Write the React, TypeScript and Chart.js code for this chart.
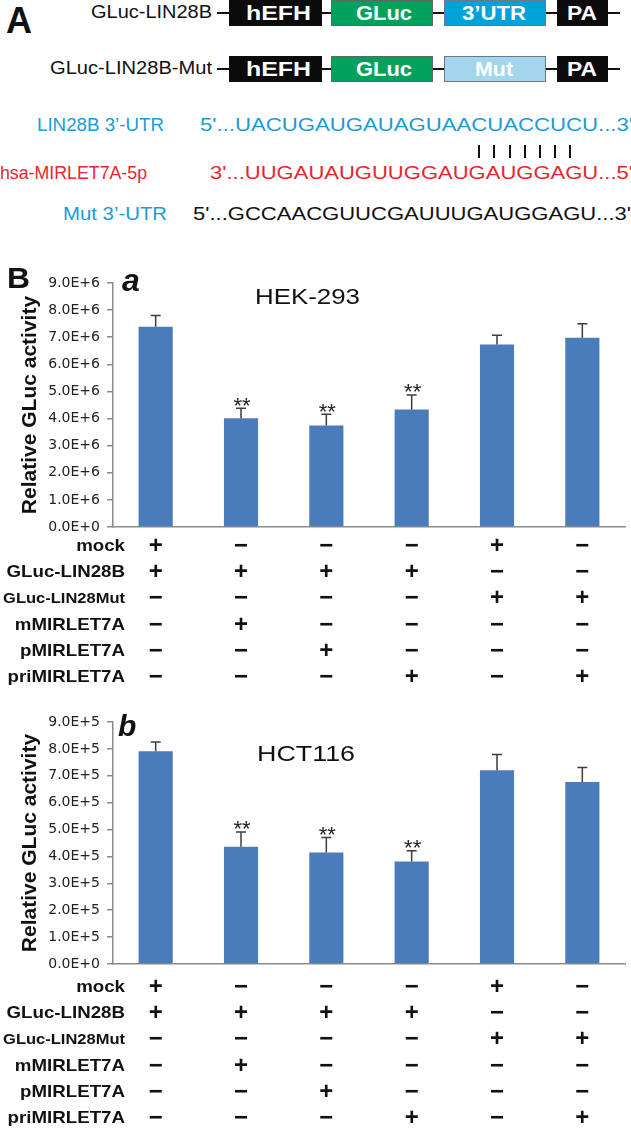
import React, { useEffect, useRef } from 'react';
import { Chart, registerables } from 'chart.js';

Chart.register(...registerables);

// ---------------- data ----------------
const rowNames = ['mock', 'GLuc-LIN28B', 'GLuc-LIN28Mut', 'mMIRLET7A', 'pMIRLET7A', 'priMIRLET7A'];
const mockRow = [1, 0, 0, 0, 1, 0];
const glucRow = [1, 1, 1, 1, 0, 0];
const mutRow = [0, 0, 0, 0, 1, 1];
const mMirRow = [0, 1, 0, 0, 0, 0];
const pMirRow = [0, 0, 1, 0, 0, 0];
const priMirRow = [0, 0, 0, 1, 0, 1];
const signRows = [mockRow, glucRow, mutRow, mMirRow, pMirRow, priMirRow];

const hekMeans = [7.39e6, 4.01e6, 3.74e6, 4.33e6, 6.73e6, 6.98e6];
const hekErrors = [0.41e6, 0.37e6, 0.42e6, 0.54e6, 0.34e6, 0.52e6];
const hekSig = [false, true, true, true, false, false];

const hctMeans = [7.91e5, 4.36e5, 4.15e5, 3.81e5, 7.21e5, 6.77e5];
const hctErrors = [0.35e5, 0.55e5, 0.55e5, 0.4e5, 0.58e5, 0.54e5];
const hctSig = [false, true, true, true, false, false];

const hekAxis = { max: 9e6, step: 1e6, exp: 6 };
const hctAxis = { max: 9e5, step: 1e5, exp: 5 };

const yTitle = 'Relative GLuc activity';
const starText = '**';

// ---------------- style ----------------
const ARIAL = 'Arial, "Liberation Sans", Helvetica, sans-serif';
const BAR = '#4a7bbb';
const AXIS = '#8a8a8a';
const BLUE_TXT = '#1a9bd7';
const RED_TXT = '#e8262b';
const LH = 26.3;

let measureCtx: CanvasRenderingContext2D | null = null;
function measure(text: string, font: string) {
  if (!measureCtx) measureCtx = document.createElement('canvas').getContext('2d');
  if (!measureCtx) return 0;
  measureCtx.font = font;
  return measureCtx.measureText(text).width;
}

type TProps = {
  text: string; x: number; y: number; size: number; w?: number;
  weight?: string; fstyle?: string; color?: string; align?: 'left' | 'right' | 'center';
};
function T({ text, x, y, size, w, weight = 'normal', fstyle = 'normal', color = '#111', align = 'left' }: TProps) {
  const font = `${fstyle} ${weight} ${size}px ${ARIAL}`;
  const m = measure(text, font) || size * text.length * 0.55;
  const W = w ?? m;
  const s = W / m;
  const left = align === 'left' ? x : align === 'right' ? x - W : x - W / 2;
  return (
    <div
      style={{
        position: 'absolute', left, top: y - size * 0.5635, whiteSpace: 'nowrap',
        font, lineHeight: `${size * 1.15}px`, color, transform: `scaleX(${s})`, transformOrigin: 'left center',
      }}
    >
      {text}
    </div>
  );
}

function fmtTick(v: number, exp: number) {
  if (v === 0) return '0.0E+0';
  return (v / Math.pow(10, exp)).toFixed(1) + 'E+' + exp;
}

type PanelProps = {
  top: number; height: number; xHeight: number; rowPad: number;
  means: number[]; errors: number[]; sig: boolean[]; axis: { max: number; step: number; exp: number };
};

function BarPanel(p: PanelProps) {
  const ref = useRef<HTMLCanvasElement>(null);
  useEffect(() => {
    if (!ref.current) return;
    const labels = p.means.map((_, i) => signRows.map((row) => (row[i] ? '+' : '\u2212')));
    const extras = {
      id: 'extras',
      afterDatasetsDraw(chart: any) {
        const ctx = chart.ctx;
        const ys = chart.scales.y;
        const meta = chart.getDatasetMeta(0);
        ctx.save();
        ctx.strokeStyle = '#3c3c3c';
        ctx.lineWidth = 1.5;
        meta.data.forEach((el: any, i: number) => {
          const x = el.x;
          const y0 = ys.getPixelForValue(p.means[i]);
          const y1 = ys.getPixelForValue(p.means[i] + p.errors[i]);
          ctx.beginPath();
          ctx.moveTo(x, y0);
          ctx.lineTo(x, y1);
          ctx.moveTo(x - 5, y1);
          ctx.lineTo(x + 5, y1);
          ctx.stroke();
          if (p.sig[i]) {
            ctx.fillStyle = '#222';
            ctx.font = `22px ${ARIAL}`;
            ctx.textAlign = 'center';
            ctx.textBaseline = 'alphabetic';
            ctx.fillText(starText, x + 1, y1 + 4.5);
          }
        });
        ctx.restore();
      },
      afterDraw(chart: any) {
        const ctx = chart.ctx;
        const xs = chart.scales.x;
        ctx.save();
        ctx.fillStyle = '#111';
        ctx.textAlign = 'right';
        ctx.textBaseline = 'middle';
        rowNames.forEach((name, r) => {
          const y = xs.top + p.rowPad + LH / 2 + r * LH;
          const size = r === 2 ? 15 : 17;
          ctx.font = `bold ${size}px ${ARIAL}`;
          ctx.save();
          ctx.translate(125, y);
          ctx.scale(1.1, 1);
          ctx.fillText(name, 0, 0);
          ctx.restore();
        });
        ctx.restore();
      },
    };
    const chart = new Chart(ref.current, {
      type: 'bar',
      data: {
        labels,
        datasets: [
          {
            data: p.means,
            backgroundColor: BAR,
            borderWidth: 0,
            barPercentage: 0.4,
            categoryPercentage: 1,
          },
        ],
      },
      options: {
        responsive: false,
        animation: false,
        devicePixelRatio: 1,
        layout: { padding: { top: 20, right: 6, left: 0, bottom: 0 } },
        plugins: { legend: { display: false }, tooltip: { enabled: false }, title: { display: false } },
        scales: {
          x: {
            grid: { display: false, drawTicks: false },
            border: { display: true, color: AXIS, width: 1.5 },
            ticks: {
              autoSkip: false,
              maxRotation: 0,
              minRotation: 0,
              padding: p.rowPad,
              color: '#111',
              font: { family: ARIAL, size: 24, weight: 'bold', lineHeight: LH / 24 },
            },
            afterFit: (s: any) => {
              s.height = p.xHeight;
            },
          },
          y: {
            min: 0,
            max: p.axis.max,
            ticks: {
              stepSize: p.axis.step,
              padding: 7,
              color: '#222',
              font: { family: '"DejaVu Sans", sans-serif', size: 14 },
              callback: (v: any) => fmtTick(Number(v), p.axis.exp),
            },
            grid: { display: true, drawOnChartArea: false, drawTicks: true, tickLength: 6, color: AXIS, lineWidth: 1.5 },
            border: { display: true, color: AXIS, width: 1.5 },
            title: {
              display: true,
              text: yTitle,
              color: '#111',
              font: { family: ARIAL, size: 21, weight: 'bold' },
              padding: { top: 18, bottom: 0 },
            },
            afterFit: (s: any) => {
              s.width = 113;
            },
          },
        },
      },
      plugins: [extras],
    } as any);
    return () => chart.destroy();
  }, []);
  return (
    <canvas
      ref={ref}
      width={631}
      height={p.height}
      style={{ position: 'absolute', left: 0, top: p.top, width: 631, height: p.height }}
    />
  );
}

function Box({ x0, x1, y0, y1, bg, border }: { x0: number; x1: number; y0: number; y1: number; bg: string; border?: string }) {
  return (
    <div
      style={{
        position: 'absolute', left: x0, top: y0, width: x1 - x0, height: y1 - y0, background: bg,
        boxSizing: 'border-box', border: border ? `1px solid ${border}` : 'none',
      }}
    />
  );
}

function Construct({ y0, third, thirdBg, thirdW, label, labelW }: { y0: number; third: string; thirdBg: string; thirdW: number; label: string; labelW: number }) {
  const cy = y0 + 13;
  return (
    <>
      <div style={{ position: 'absolute', left: 217, top: cy - 1, width: 403, height: 2, background: '#111' }} />
      <Box x0={229} x1={322} y0={y0} y1={y0 + 26} bg="#0b0b0b" />
      <Box x0={331} x1={433} y0={y0} y1={y0 + 26} bg="#00a15c" border="#5a6a60" />
      <Box x0={444} x1={546} y0={y0} y1={y0 + 26} bg={thirdBg} border="#6a7a85" />
      <Box x0={557} x1={608} y0={y0} y1={y0 + 26} bg="#0b0b0b" />
      <T text="hEFH" x={278} y={cy + 0.5} size={20} weight="bold" color="#fff" align="center" w={65} />
      <T text="GLuc" x={384} y={cy + 0.5} size={20} weight="bold" color="#fff" align="center" w={56} />
      <T text={third} x={494} y={cy + 0.5} size={20} weight="bold" color="#fff" align="center" w={thirdW} />
      <T text="PA" x={582} y={cy + 0.5} size={20} weight="bold" color="#fff" align="center" w={30} />
      <T text={label} x={212} y={cy - 0.5} size={18} align="right" w={labelW} />
    </>
  );
}

export default function App() {
  const pairX = [479, 494, 509.5, 524.5, 539.5, 554.5, 569.5];
  return (
    <div style={{ position: 'absolute', left: 0, top: 0, width: 631, height: 1129, background: '#fff', overflow: 'hidden' }}>
      {/* Panel A */}
      <T text="A" x={6} y={20} size={36} weight="bold" w={26} />
      <Construct y0={0} third={'3\u2019UTR'} thirdBg="#00a3d9" thirdW={64} label="GLuc-LIN28B" labelW={121} />
      <Construct y0={56} third="Mut" thirdBg="#a3d5ec" thirdW={38} label="GLuc-LIN28B-Mut" labelW={162} />

      <T text={'LIN28B 3\u2019-UTR'} x={164} y={125} size={18} color={BLUE_TXT} align="right" w={127} />
      <T text={"5'...UACUGAUGAUAGUAACUACCUCU...3'"} x={200} y={125} size={18} color={BLUE_TXT} w={433} />
      {pairX.map((x, i) => (
        <div key={i} style={{ position: 'absolute', left: x - 1, top: 145, width: 2, height: 13, background: '#111' }} />
      ))}
      <T text="hsa-MIRLET7A-5p" x={147} y={173} size={18} color={RED_TXT} align="right" w={147} />
      <T text={"3'...UUGAUAUGUUGGAUGAUGGAGU...5'"} x={210} y={173} size={18} color={RED_TXT} w={423} />
      <T text={'Mut 3\u2019-UTR'} x={167} y={214} size={18} color={BLUE_TXT} align="right" w={104} />
      <T text={"5'...GCCAACGUUCGAUUUGAUGGAGU...3'"} x={193} y={214} size={18} color="#111" w={438} />

      {/* Panel B */}
      <BarPanel top={263} height={434} xHeight={170} rowPad={5.85} means={hekMeans} errors={hekErrors} sig={hekSig} axis={hekAxis} />
      <BarPanel top={702} height={427} xHeight={165} rowPad={9.85} means={hctMeans} errors={hctErrors} sig={hctSig} axis={hctAxis} />

      <T text="B" x={7} y={277.5} size={30} weight="bold" w={23} />
      <T text="a" x={122} y={280.5} size={32} weight="bold" fstyle="italic" />
      <T text="HEK-293" x={255} y={296} size={22} w={105} />
      <T text="b" x={118} y={726.3} size={30} weight="bold" fstyle="italic" />
      <T text="HCT116" x={257} y={753.5} size={22} w={98} />
    </div>
  );
}
